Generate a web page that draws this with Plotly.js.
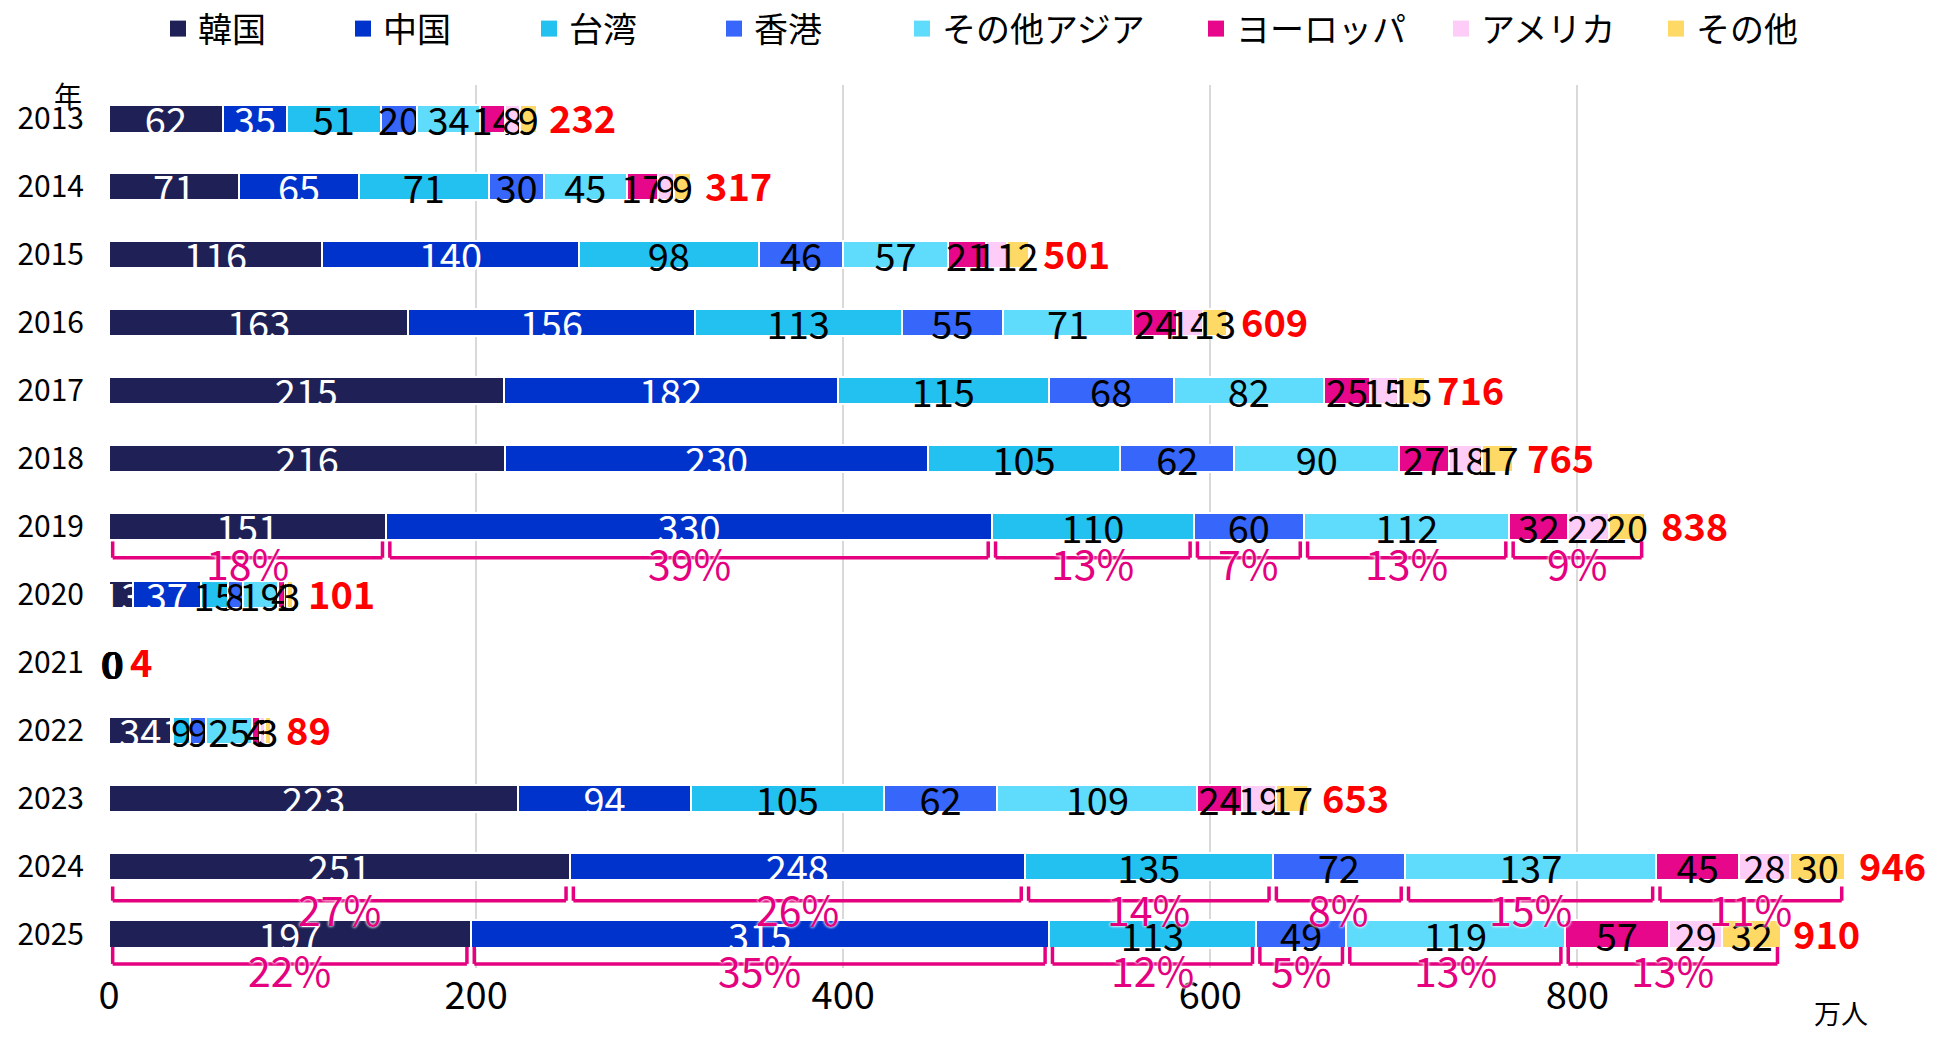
<!DOCTYPE html>
<html>
<head>
<meta charset="utf-8">
<script src="https://cdn.plot.ly/plotly-3.0.1.min.js"></script>
<style>html,body{margin:0;padding:0;background:#fff;}#chart{width:1939px;height:1037px;}</style>
</head>
<body>
<div id="chart"></div>
<script>
// ---- data (万人) ----
const years = ['2013','2014','2015','2016','2017','2018','2019','2020','2021','2022','2023','2024','2025'];
const korea     = [62, 71, 116, 163, 215, 216, 151, 13, 0.4, 34, 223, 251, 197];
const china     = [35, 65, 140, 156, 182, 230, 330, 37, 0.4, 1, 94, 248, 315];
const taiwan    = [51, 71, 98, 113, 115, 105, 110, 15, 0.3, 9, 105, 135, 113];
const hongkong  = [20, 30, 46, 55, 68, 62, 60, 8, 0.2, 9, 62, 72, 49];
const otherAsia = [34, 45, 57, 71, 82, 90, 112, 19, 0.4, 25, 109, 137, 119];
const europe    = [14, 17, 21, 24, 25, 27, 32, 4, 0.4, 4, 24, 45, 57];
const america   = [8, 9, 11, 14, 15, 18, 22, 1, 0.4, 3, 19, 28, 29];
const others    = [9, 9, 12, 13, 15, 17, 20, 3, 0.3, 3, 17, 30, 32];
const totals    = [232, 317, 501, 609, 716, 765, 838, 101, 4, 89, 653, 946, 910];

const seriesNames = ['韓国','中国','台湾','香港','その他アジア','ヨーロッパ','アメリカ','その他'];
const xTicks = [0, 200, 400, 600, 800];

// share brackets (%)
const bracketYears = ['2019', '2024', '2025'];
const share2019 = [18, 39, 13, 7, 13, 9];
const share2024 = [27, 26, 14, 8, 15, 11];
const share2025 = [22, 35, 12, 5, 13, 13];

// ---- styling ----
const FONT = '"Noto Sans CJK JP", "Noto Sans", sans-serif';
const colors = ['#1f2156','#0033cc','#22c1ef','#3766fb','#5fdcfb','#e6078b','#fdcdf8','#fed966'];
const textColors = ['#ffffff','#ffffff','#000000','#000000','#000000','#000000','#000000','#000000'];
const legendLeftPx = [158, 343, 529, 714, 902, 1196, 1441, 1656];
const PLOT_L = 109, PLOT_W = 1830, PLOT_T = 85, PLOT_H = 883;
const X_MAX = 997;
const PINK = '#e4007f';
// bracket placement below each bar (category units): [tick top, line, label centre]
const bracketOffsets = [[0.22, 0.46, 0.53], [0.30, 0.51, 0.61], [0.19, 0.44, 0.51]];

const seriesData = [korea, china, taiwan, hongkong, otherAsia, europe, america, others];
const N = years.length;
// category position (index units) -> paper y, for range [N-0.5, -0.5]
const paperY = v => (N - 0.5 - v) / N;
const paperX = v => v / X_MAX;
const legendKey = i => (i === 0 ? 'legend' : 'legend' + (i + 1));

const traces = seriesData.map((vals, i) => ({
  type: 'bar',
  orientation: 'h',
  name: seriesNames[i],
  legendgroup: seriesNames[i],
  showlegend: false,
  y: years,
  x: vals,
  marker: {color: colors[i], line: {color: '#ffffff', width: 2}},
  texttemplate: '%{x:.0f}',
  textposition: 'inside',
  insidetextanchor: 'middle',
  textangle: 0,
  constraintext: 'none',
  cliponaxis: false,
  textfont: {family: FONT, size: 38, color: textColors[i]},
  hoverinfo: 'skip'
}));

// legend entries (square swatches like the original)
seriesNames.forEach((n, i) => {
  traces.push({
    type: 'scatter', mode: 'markers',
    name: n, legendgroup: n, legend: legendKey(i),
    x: [null], y: [null],
    marker: {symbol: 'square', size: 16, color: colors[i]},
    showlegend: true, hoverinfo: 'skip'
  });
});

const layout = {
  width: 1939, height: 1037,
  margin: {l: PLOT_L, r: 0, t: PLOT_T, b: 1037 - PLOT_T - PLOT_H, autoexpand: false},
  paper_bgcolor: '#ffffff', plot_bgcolor: '#ffffff',
  font: {family: FONT, color: '#000000'},
  barmode: 'stack',
  bargap: 0.6,
  showlegend: true,
  xaxis: {
    range: [0, X_MAX],
    autorange: false,
    tickvals: xTicks,
    ticktext: xTicks.map(String),
    showgrid: true, gridcolor: '#d9d9d9', gridwidth: 2,
    zeroline: false, showline: false,
    ticks: '',
    tickfont: {family: FONT, size: 38, color: '#000'},
    ticklabelstandoff: 2,
    fixedrange: true
  },
  yaxis: {
    type: 'category',
    categoryorder: 'array',
    categoryarray: years,
    range: [N - 0.5, -0.5],
    autorange: false,
    showgrid: false, zeroline: false, showline: false,
    ticks: '',
    tickfont: {family: FONT, size: 30, color: '#000'},
    ticklabelstandoff: 24,
    fixedrange: true
  },
  shapes: [],
  annotations: [
    {xref: 'paper', yref: 'paper', x: (68 - PLOT_L) / PLOT_W, y: (PLOT_T + PLOT_H - 95) / PLOT_H,
     text: '年', showarrow: false, xanchor: 'center', yanchor: 'middle',
     font: {family: FONT, size: 28, color: '#000'}},
    {xref: 'paper', yref: 'paper', x: (1841 - PLOT_L) / PLOT_W, y: (PLOT_T + PLOT_H - 1012) / PLOT_H,
     text: '万人', showarrow: false, xanchor: 'center', yanchor: 'middle',
     font: {family: FONT, size: 27, color: '#000'}}
  ]
};

// totals in red, right of each stacked bar
totals.forEach((t, i) => {
  layout.annotations.push({
    xref: 'x', yref: 'y', x: t, y: i,
    text: String(t), showarrow: false, xanchor: 'left', yanchor: 'middle',
    xshift: 12, yshift: 2,
    font: {family: FONT, size: 38, color: '#ff0000', weight: 'bold'}
  });
});

// legends, one per series, positioned like the original
seriesNames.forEach((n, i) => {
  layout[legendKey(i)] = {
    orientation: 'h',
    x: (legendLeftPx[i] - PLOT_L) / PLOT_W,
    xanchor: 'left',
    y: 1 + (PLOT_T - 29) / PLOT_H,
    yanchor: 'middle',
    bgcolor: 'rgba(0,0,0,0)',
    borderwidth: 0,
    font: {family: FONT, size: 34, color: '#000'},
    traceorder: 'normal'
  };
});

// share brackets built from the series values
const groups = [[korea], [china], [taiwan], [hongkong], [otherAsia], [europe, america, others]];
const shares = [share2019, share2024, share2025];
const inset = 2;
bracketYears.forEach((yr, r) => {
  const idx = years.indexOf(yr);
  const off = bracketOffsets[r];
  let cum = 0;
  groups.forEach((g, k) => {
    const val = g.reduce((s, arr) => s + arr[idx], 0);
    const x0 = paperX(cum + inset), x1 = paperX(cum + val - inset);
    const yTop = paperY(idx + off[0]), yBot = paperY(idx + off[1]);
    const line = {color: PINK, width: 3.5};
    layout.shapes.push({type: 'line', xref: 'paper', yref: 'paper', x0: x0, x1: x0, y0: yTop, y1: yBot, line: line, layer: 'above'});
    layout.shapes.push({type: 'line', xref: 'paper', yref: 'paper', x0: x0, x1: x1, y0: yBot, y1: yBot, line: line, layer: 'above'});
    layout.shapes.push({type: 'line', xref: 'paper', yref: 'paper', x0: x1, x1: x1, y0: yTop, y1: yBot, line: line, layer: 'above'});
    layout.annotations.push({
      xref: 'x', yref: 'paper', x: cum + val / 2, y: paperY(idx + off[2]),
      text: shares[r][k] + '%', showarrow: false, xanchor: 'center', yanchor: 'middle',
      font: {family: FONT, size: 41, color: PINK, shadow: '0px 0px 3px #ffffff, 0px 0px 3px #ffffff'}
    });
    cum += val;
  });
});

Plotly.newPlot('chart', traces, layout, {displayModeBar: false, staticPlot: true});
</script>
</body>
</html>
